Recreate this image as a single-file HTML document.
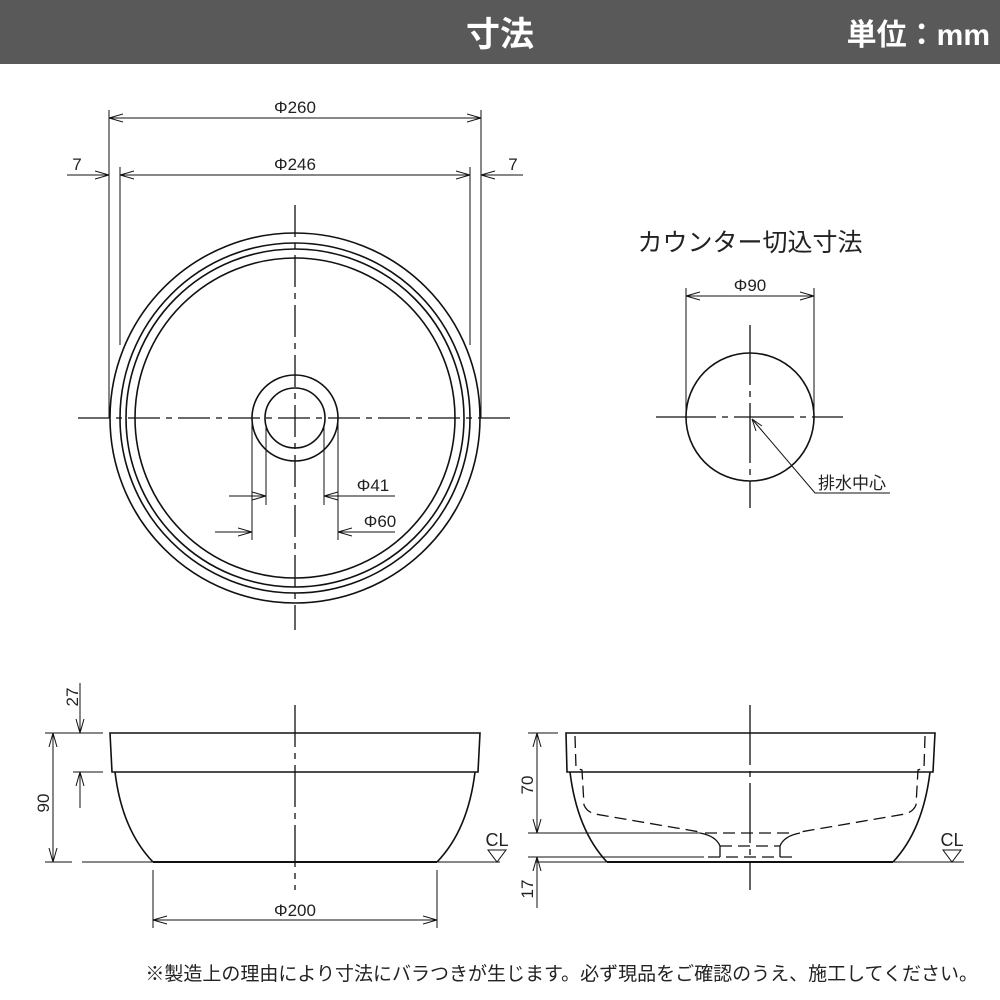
<!DOCTYPE html>
<html><head><meta charset="utf-8"><style>
html,body{margin:0;padding:0;background:#fff;width:1000px;height:1000px;overflow:hidden}
svg{display:block}
text{font-family:"Liberation Sans","Noto Sans CJK JP",sans-serif;fill:#222}
</style></head><body>
<svg width="1000" height="1000" viewBox="0 0 1000 1000" xmlns="http://www.w3.org/2000/svg">
<defs>
<marker id="a" viewBox="0 0 14 10" refX="14" refY="5" markerWidth="14" markerHeight="10" markerUnits="userSpaceOnUse" orient="auto-start-reverse">
<path d="M0,1 L14,5 L0,9" fill="none" stroke="#111" stroke-width="1"/></marker>
</defs>
<rect x="0" y="0" width="1000" height="64" fill="#595959"/>
<text x="500" y="46" text-anchor="middle" font-size="34" font-weight="bold" style="fill:#fff">寸法</text>
<text x="990" y="45" text-anchor="end" font-size="30" font-weight="bold" style="fill:#fff">単位：mm</text>

<g stroke="#111" fill="none" stroke-width="1.3">
<circle cx="295" cy="418" r="185" stroke-width="1.6"/>
<circle cx="295" cy="418" r="175" stroke-width="1.6"/>
<circle cx="295" cy="418" r="169" stroke-width="1.6"/>
<circle cx="295" cy="418" r="160" stroke-width="1.6"/>
<circle cx="295" cy="418" r="43" stroke-width="1.6"/>
<circle cx="295" cy="418" r="30" stroke-width="1.6"/>
<line x1="295" y1="205" x2="295" y2="630" stroke-dasharray="32 6 6 6"/>
<line x1="78" y1="418" x2="512" y2="418" stroke-dasharray="32 6 6 6"/>
<line x1="109" y1="110" x2="109" y2="418" stroke-width="1"/>
<line x1="481" y1="110" x2="481" y2="418" stroke-width="1"/>
<line x1="120" y1="167" x2="120" y2="345" stroke-width="1"/>
<line x1="470" y1="167" x2="470" y2="345" stroke-width="1"/>
<line x1="109" y1="118" x2="481" y2="118" stroke-width="1" marker-start="url(#a)" marker-end="url(#a)"/>
<line x1="120" y1="175" x2="470" y2="175" stroke-width="1" marker-start="url(#a)" marker-end="url(#a)"/>
<line x1="67" y1="175" x2="109" y2="175" stroke-width="1" marker-end="url(#a)"/>
<line x1="523" y1="175" x2="481" y2="175" stroke-width="1" marker-end="url(#a)"/>
<line x1="266" y1="427" x2="266" y2="505" stroke-width="1"/>
<line x1="324" y1="427" x2="324" y2="505" stroke-width="1"/>
<line x1="252" y1="422" x2="252" y2="540" stroke-width="1"/>
<line x1="338" y1="422" x2="338" y2="540" stroke-width="1"/>
<line x1="229" y1="496" x2="266" y2="496" stroke-width="1" marker-end="url(#a)"/>
<line x1="395" y1="496" x2="324" y2="496" stroke-width="1" marker-end="url(#a)"/>
<line x1="215" y1="532" x2="252" y2="532" stroke-width="1" marker-end="url(#a)"/>
<line x1="395" y1="532" x2="338" y2="532" stroke-width="1" marker-end="url(#a)"/>

<circle cx="750" cy="417" r="64" stroke-width="1.6"/>
<line x1="750" y1="325" x2="750" y2="508" stroke-dasharray="60 6 6 6"/>
<line x1="656" y1="417" x2="843" y2="417" stroke-dasharray="60 6 6 6"/>
<line x1="686" y1="288" x2="686" y2="417" stroke-width="1"/>
<line x1="814" y1="288" x2="814" y2="417" stroke-width="1"/>
<line x1="686" y1="296" x2="814" y2="296" stroke-width="1" marker-start="url(#a)" marker-end="url(#a)"/>
<polyline points="890,493 815,493 752,419" stroke-width="1"/>
<path d="M752,419 L756,431 M752,419 L762,426" stroke-width="1"/>

<path d="M110,733 L480,733 L478,772 L112,772 Z" stroke-width="1.6"/>
<path d="M115,772 Q122,830 153,862 M475,772 Q468,830 437,862" stroke-width="1.6"/>
<line x1="153" y1="862" x2="437" y2="862" stroke-width="2"/>
<line x1="82" y1="862" x2="153" y2="862" stroke-width="1"/>
<line x1="437" y1="862" x2="500" y2="862" stroke-width="1"/>
<line x1="45" y1="862" x2="72" y2="862" stroke-width="1"/>
<line x1="295" y1="705" x2="295" y2="890" stroke-dasharray="42 6 6 6"/>
<line x1="45" y1="733" x2="103" y2="733" stroke-width="1"/>
<line x1="73" y1="772" x2="103" y2="772" stroke-width="1"/>
<line x1="80" y1="683" x2="80" y2="733" stroke-width="1" marker-end="url(#a)"/>
<line x1="80" y1="808" x2="80" y2="772" stroke-width="1" marker-end="url(#a)"/>
<line x1="53" y1="733" x2="53" y2="862" stroke-width="1" marker-start="url(#a)" marker-end="url(#a)"/>
<line x1="153" y1="870" x2="153" y2="928" stroke-width="1"/>
<line x1="437" y1="870" x2="437" y2="928" stroke-width="1"/>
<line x1="153" y1="920" x2="437" y2="920" stroke-width="1" marker-start="url(#a)" marker-end="url(#a)"/>
<path d="M488,850 L506,850 L497,862 Z" stroke-width="1"/>

<path d="M566,733 L935,733 L933,772 L567,772 Z" stroke-width="1.6"/>
<path d="M570,772 Q577,830 607,862 M930,772 Q923,830 893,862" stroke-width="1.6"/>
<line x1="536" y1="862" x2="964" y2="862" stroke-width="1"/>
<line x1="607" y1="862" x2="893" y2="862" stroke-width="2"/>
<line x1="750" y1="705" x2="750" y2="890" stroke-dasharray="60 6 6 6"/>
<g stroke-dasharray="12 6" stroke-width="1.3">
<path d="M575,736 L576,768 L582,770 L584,805 Q587,812 595,814 L700,832"/>
<path d="M925,736 L924,768 L918,770 L916,805 Q913,812 905,814 L800,832"/>
<line x1="705" y1="833" x2="795" y2="833"/>
<line x1="720" y1="846" x2="780" y2="846"/>
<line x1="708" y1="857" x2="792" y2="857"/>
</g>
<line x1="528" y1="833" x2="700" y2="833" stroke-width="1"/>
<line x1="528" y1="857" x2="704" y2="857" stroke-width="1"/>
<path d="M700,833 Q716,836 720,846 L720,857 M800,833 Q784,836 780,846 L780,857" stroke-width="1.3"/>
<line x1="528" y1="733" x2="558" y2="733" stroke-width="1"/>
<line x1="537" y1="733" x2="537" y2="833" stroke-width="1" marker-start="url(#a)" marker-end="url(#a)"/>
<line x1="537" y1="908" x2="537" y2="857" stroke-width="1" marker-end="url(#a)"/>
<path d="M943,850 L961,850 L952,862 Z" stroke-width="1"/>
</g>

<g font-size="17">
<text x="295" y="113" text-anchor="middle">Φ260</text>
<text x="295" y="170" text-anchor="middle">Φ246</text>
<text x="77" y="170" text-anchor="middle">7</text>
<text x="513" y="170" text-anchor="middle">7</text>
<text x="373" y="491" text-anchor="middle">Φ41</text>
<text x="380" y="527" text-anchor="middle">Φ60</text>
<text x="750" y="291" text-anchor="middle">Φ90</text>
<text x="818" y="489">排水中心</text>
<text x="295" y="916" text-anchor="middle">Φ200</text>
<text transform="translate(78,697) rotate(-90)" text-anchor="middle">27</text>
<text transform="translate(49,803) rotate(-90)" text-anchor="middle">90</text>
<text transform="translate(533,785) rotate(-90)" text-anchor="middle">70</text>
<text transform="translate(533,889) rotate(-90)" text-anchor="middle">17</text>
<text x="497" y="846" text-anchor="middle" font-size="18">CL</text>
<text x="952" y="846" text-anchor="middle" font-size="18">CL</text>
</g>
<text x="750" y="251" text-anchor="middle" font-size="25">カウンター切込寸法</text>
<text x="978" y="980" text-anchor="end" font-size="19">※製造上の理由により寸法にバラつきが生じます。必ず現品をご確認のうえ、施工してください。</text>
</svg>
</body></html>
